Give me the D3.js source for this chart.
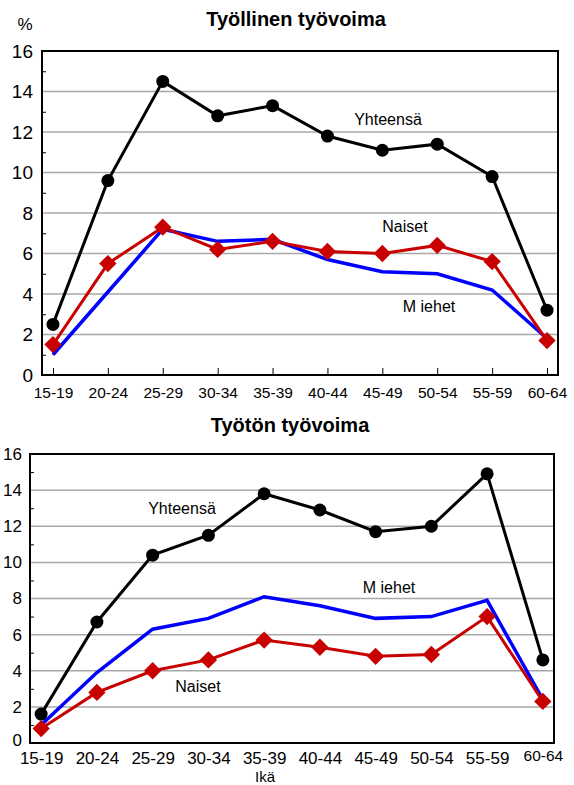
<!DOCTYPE html>
<meta charset="UTF-8">
<html>
	<head>
		<script src="https://d3js.org/d3.v7.min.js"></script>
		<style>
			body { margin: 0; background: #fff; }
			svg text { font-family: "Liberation Sans", Arial, sans-serif; fill: #000; }
		</style>
	</head>
	<body>
		<svg class="Chart"></svg>
		<script type="text/javascript">
			// ikäryhmät
			var Ages = ["15-19","20-24","25-29","30-34","35-39","40-44","45-49","50-54","55-59","60-64"];
			var YTicks = [0,2,4,6,8,10,12,14,16];
			var YMinor = [1,3,5,7,9,11,13,15];

			// Työllinen työvoima, %
			var EmpTotal = [2.5,9.6,14.5,12.8,13.3,11.8,11.1,11.4,9.8,3.2];
			var EmpMen   = [1.0,4.1,7.2,6.6,6.7,5.7,5.1,5.0,4.2,1.8];
			var EmpWomen = [1.5,5.5,7.3,6.2,6.6,6.1,6.0,6.4,5.6,1.7];

			// Työtön työvoima, %
			var UnTotal = [1.6,6.7,10.4,11.5,13.8,12.9,11.7,12.0,14.9,4.6];
			var UnMen   = [1.0,3.9,6.3,6.9,8.1,7.6,6.9,7.0,7.9,2.4];
			var UnWomen = [0.8,2.8,4.0,4.6,5.7,5.3,4.8,4.9,7.0,2.3];

			var Width = 574, Height = 785;
			var Svg = d3.select(".Chart").attr("width", Width).attr("height", Height);

			function DrawPanel(P)
			{
				var XScale = d3.scalePoint().domain(Ages).range([P.Left, P.Right]).padding(0.2);
				var YScale = d3.scaleLinear().domain([0,16]).range([P.Bottom, P.Top]);
				var G = Svg.append("g");

				// title
				G.append("text").attr("x", P.TitleX).attr("y", P.TitleY)
					.attr("text-anchor", "middle").style("font-weight", "bold").style("font-size", "20px")
					.text(P.Title);

				// gridlines
				G.selectAll("line.grid").data(YTicks.filter(function(d){return d > 0 && d < 16;}))
					.enter().append("line").attr("class", "grid")
					.attr("x1", P.Left).attr("x2", P.Right)
					.attr("y1", function(d){return YScale(d);}).attr("y2", function(d){return YScale(d);})
					.attr("stroke", "#a8a8a8").attr("stroke-width", 1.5);

				// y labels
				var YAxis = G.append("g").attr("transform", "translate(" + P.Left + ",0)")
					.call(d3.axisLeft(YScale).tickValues(YTicks).tickSize(0).tickPadding(P.YPad));
				YAxis.select(".domain").remove();
				YAxis.selectAll("text").style("font-size", P.YFont).attr("font-family", null);
				if (P.ZeroDy)
				{
					YAxis.selectAll("text").filter(function(d){return d === 0;}).attr("dy", P.ZeroDy);
				}

				// minor ticks inside
				var YMin = G.append("g").attr("transform", "translate(" + P.Left + ",0)")
					.call(d3.axisRight(YScale).tickValues(YMinor).tickSize(4).tickFormat(""));
				YMin.select(".domain").remove();
				YMin.selectAll("line").attr("stroke", "#000");

				// x labels
				var XAxis = G.append("g").attr("transform", "translate(0," + P.Bottom + ")")
					.call(d3.axisBottom(XScale).tickSize(0).tickPadding(P.XPad));
				XAxis.select(".domain").remove();
				XAxis.selectAll("text").style("font-size", P.XFont).attr("font-family", null);
				if (P.LastFont)
				{
					XAxis.selectAll("text").filter(function(d){return d === "60-64";})
						.style("font-size", P.LastFont).attr("dy", "0.55em");
				}

				if (P.XTicks)
				{
					var XT = G.append("g").attr("transform", "translate(0," + P.Bottom + ")")
						.call(d3.axisTop(XScale).tickSize(7).tickFormat(""));
					XT.select(".domain").remove();
					XT.selectAll("line").attr("stroke", "#000");
				}

				// frame
				G.append("rect").attr("x", P.Left).attr("y", P.Top)
					.attr("width", P.Right - P.Left).attr("height", P.Bottom - P.Top)
					.attr("fill", "none").attr("stroke", "#000").attr("stroke-width", 2);

				var Line = d3.line()
					.x(function(d, i){return XScale(Ages[i]);})
					.y(function(d){return YScale(d);});

				// Miehet
				G.append("path").datum(P.Men).attr("d", Line)
					.attr("fill", "none").attr("stroke", "#0000ff").attr("stroke-width", 3.5);

				// Naiset
				G.append("path").datum(P.Women).attr("d", Line)
					.attr("fill", "none").attr("stroke", "#c80000").attr("stroke-width", 3);
				G.selectAll("path.dia").data(P.Women).enter().append("path").attr("class", "dia")
					.attr("d", d3.symbol().type(d3.symbolSquare).size(150))
					.attr("transform", function(d, i){return "translate(" + XScale(Ages[i]) + "," + YScale(d) + ") rotate(45)";})
					.attr("fill", "#c80000");

				// Yhteensä
				G.append("path").datum(P.Total).attr("d", Line)
					.attr("fill", "none").attr("stroke", "#000").attr("stroke-width", 3);
				G.selectAll("circle.tot").data(P.Total).enter().append("circle").attr("class", "tot")
					.attr("cx", function(d, i){return XScale(Ages[i]);})
					.attr("cy", function(d){return YScale(d);})
					.attr("r", 6.5).attr("fill", "#000");

				// series labels
				P.Labels.forEach(function(L)
				{
					G.append("text").attr("x", L[1]).attr("y", L[2]).attr("text-anchor", "middle")
						.style("font-size", "16px").text(L[0]);
				});
			}

			DrawPanel({
				Title: "Työllinen työvoima", TitleX: 296, TitleY: 26,
				Left: 42, Right: 558, Top: 51, Bottom: 375,
				YFont: "19px", YPad: 9, XFont: "15.5px", XPad: 12, XTicks: true,
				Total: EmpTotal, Men: EmpMen, Women: EmpWomen,
				Labels: [["Yhteensä", 388, 125], ["Naiset", 405, 232], ["M iehet", 429, 312]]
			});

			DrawPanel({
				Title: "Työtön työvoima", TitleX: 290, TitleY: 432,
				Left: 30, Right: 554, Top: 454, Bottom: 743,
				YFont: "17px", YPad: 8, ZeroDy: "0.12em", XFont: "17px", XPad: 9, LastFont: "15.5px", XTicks: false,
				Total: UnTotal, Men: UnMen, Women: UnWomen,
				Labels: [["Yhteensä", 182, 514], ["M iehet", 389, 593], ["Naiset", 198, 692]]
			});

			Svg.append("text").attr("x", 25).attr("y", 30).attr("text-anchor", "middle")
				.style("font-size", "17px").text("%");
			Svg.append("text").attr("x", 265).attr("y", 781.5).attr("text-anchor", "middle")
				.style("font-size", "15px").text("Ikä");
		</script>
	</body>
</html>
